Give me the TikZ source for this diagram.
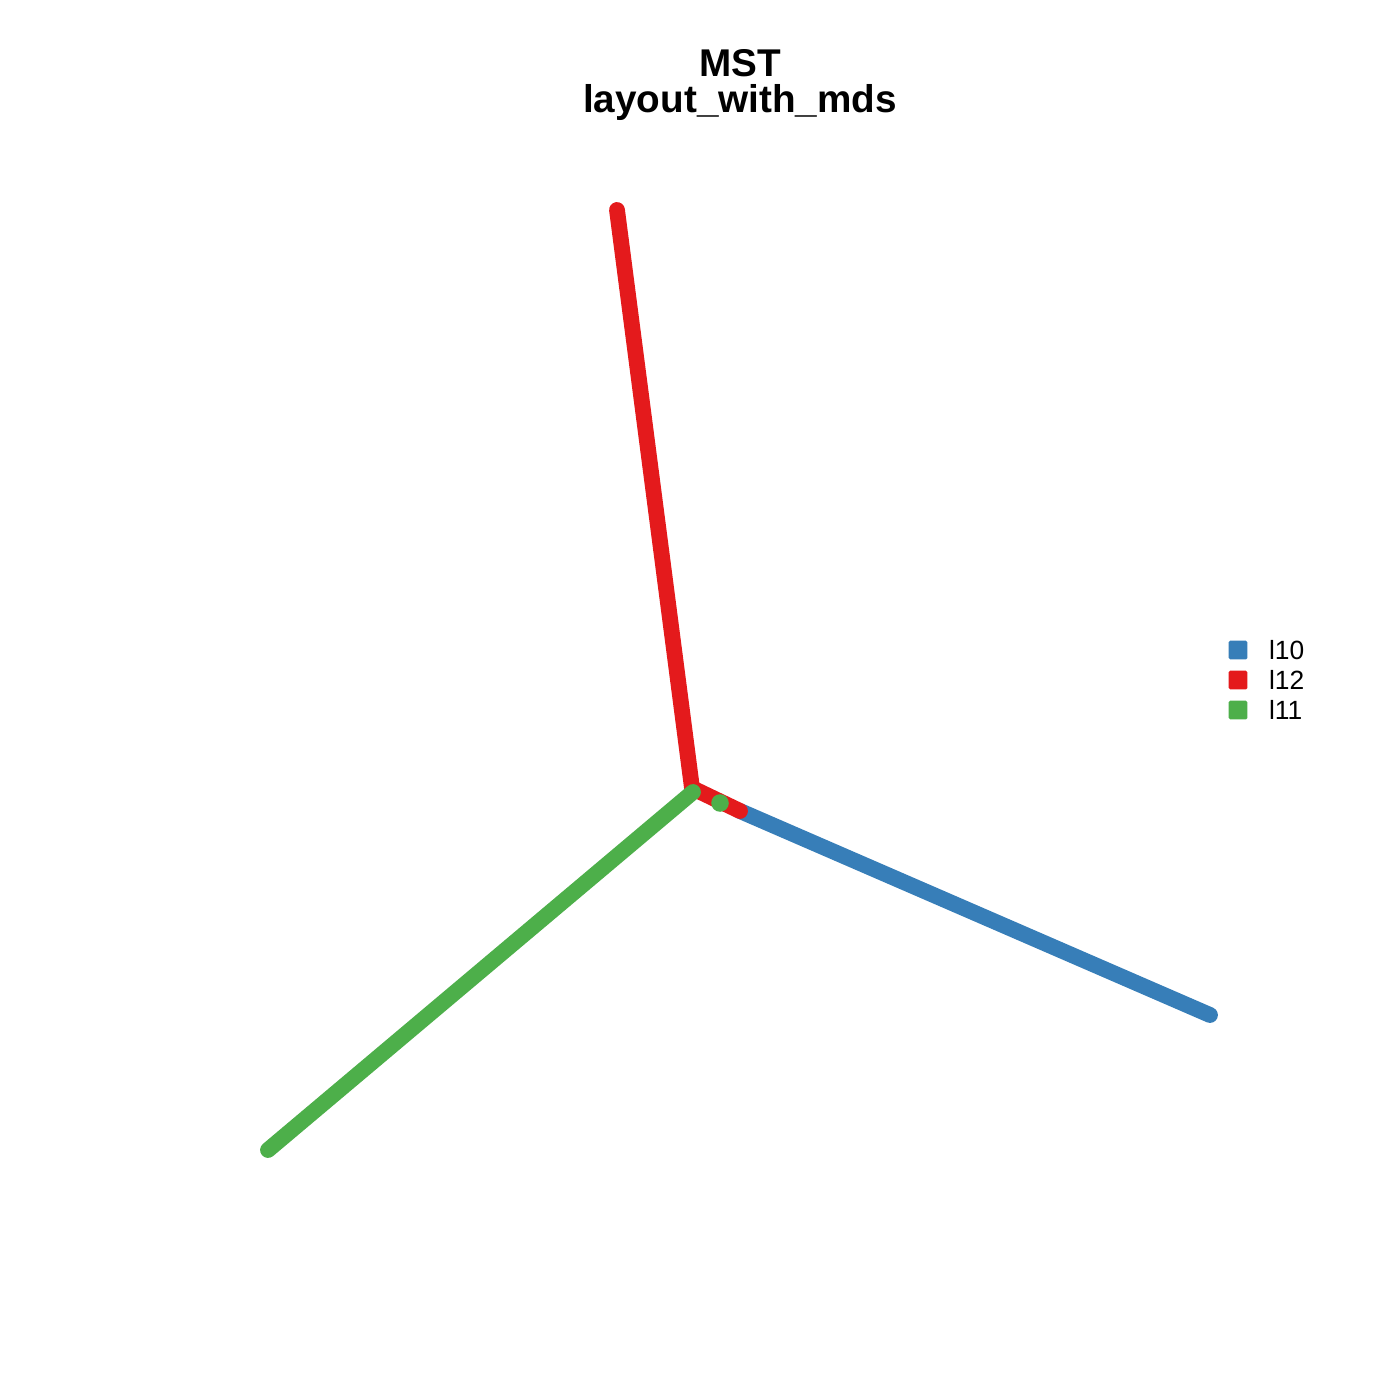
\documentclass[tikz,border=0pt]{standalone}
\usepackage{fontspec}
\setmainfont{Liberation Sans}
\usetikzlibrary{positioning}

\definecolor{mstblue}{HTML}{377EB8}
\definecolor{mstred}{HTML}{E41A1C}
\definecolor{mstgreen}{HTML}{4DAF4A}

\begin{document}
\begin{tikzpicture}[
    x=0.01cm, y=-0.01cm,
    every node/.style={inner sep=0pt, outer sep=0pt},
    branch/.style={line width=4.5pt, line cap=round},
    dotpt/.style={circle, minimum size=5pt},
    title/.style={font=\bfseries\fontsize{11pt}{12pt}\selectfont, anchor=base},
    key/.style={minimum size=5.3pt, rounded corners=0.4pt},
    keytext/.style={font=\fontsize{7.5pt}{9pt}\selectfont, anchor=west}
  ]
    \useasboundingbox (0,0) rectangle (1400,1400);

    % Title
    \node[title] (title) at (740,77) {MST};
    \node[title] (subtitle) at (740,113) {layout\_with\_mds};

    % Branch ends and the junction
    \coordinate (hub) at (692,788);
    \coordinate (redtip) at (617,210);
    \coordinate (greentip) at (268,1150);
    \coordinate (bluetip) at (1210,1015);
    \coordinate (bluestart) at (740,811);
    \coordinate (hubgreen) at (693,792);

    % Branches
    \draw[branch, mstblue] (bluestart) -- (bluetip);
    \draw[branch, mstred] (hub) -- (bluestart);
    \draw[branch, mstred] (redtip) -- (hub);
    \draw[branch, mstgreen] (greentip) -- (hubgreen);
    \node[dotpt, fill=mstgreen] (midgreen) at (720,803) {};

    % Legend
    \node[key, fill=mstblue] (keyA) at (1238,650) {};
    \node[key, fill=mstred] (keyB) at (1238,680) {};
    \node[key, fill=mstgreen] (keyC) at (1238,710) {};
    \node[keytext] (labA) at (1269,650) {l10};
    \node[keytext] (labB) at (1269,680) {l12};
    \node[keytext] (labC) at (1269,710) {l11};

  \end{tikzpicture}
\end{document}
